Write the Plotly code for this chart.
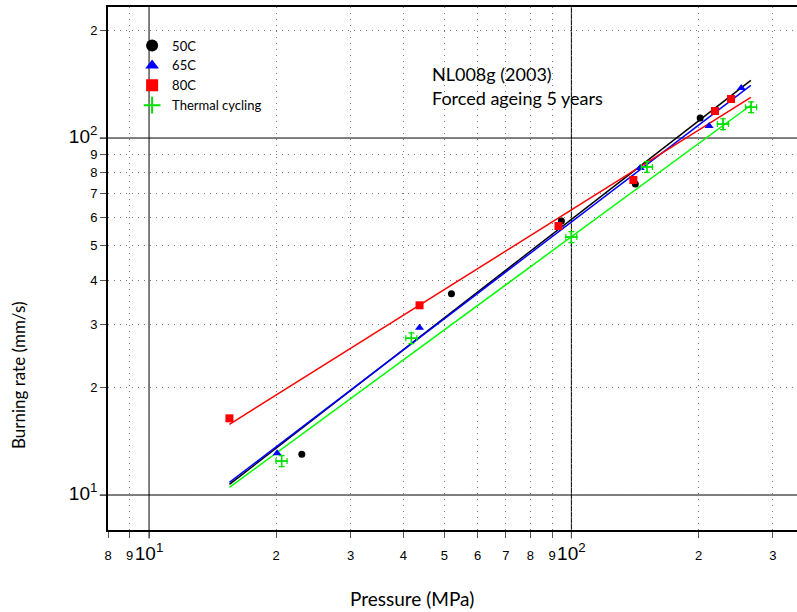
import numpy as np
import plotly.graph_objects as go

# Measured burning rates (pressure in MPa, rate in mm/s)
p_50 = [23.0, 52.0, 94.7, 141.7, 201.8]
r_50 = [13.0, 36.6, 58.6, 74.3, 113.8]

p_65 = [20.1, 43.7, 93.6, 145.5, 211.9, 252.5]
r_65 = [13.1, 29.4, 57.2, 82.4, 108.0, 138.0]

p_80 = [15.5, 43.7, 93.2, 140.2, 218.8, 238.8]
r_80 = [16.4, 34.0, 56.7, 76.3, 119.0, 128.6]

p_tc = [20.6, 41.8, 100.0, 151.0, 228.6, 266.4]
r_tc = [12.45, 27.5, 52.8, 83.0, 109.4, 122.0]

# Power-law fits r = a * p^n
fit_a = {"50C": 0.867, "65C": 0.918, "80C": 2.064, "Thermal cycling": 0.976}
fit_n = {"50C": 0.917, "65C": 0.901, "80C": 0.742, "Thermal cycling": 0.867}
fit_p_range = [15.5, 266.0]

# Axis ticks
x_ticks = [8, 9, 10, 20, 30, 40, 50, 60, 70, 80, 90, 100, 200, 300]
y_ticks = [10, 20, 30, 40, 50, 60, 70, 80, 90, 100, 200]
major_decades = [10, 100]

series_names = ["50C", "65C", "80C", "Thermal cycling"]
colors = {"50C": "#000000", "65C": "#0000ff", "80C": "#ff0000", "Thermal cycling": "#00e000"}
line_colors = {"50C": "#000000", "65C": "#0000ff", "80C": "#ff0000", "Thermal cycling": "#00ff00"}


def tick_label(v):
    exp = int(round(np.log10(v)))
    if abs(v - 10 ** exp) < 1e-9:
        return f"<span style='font-size:19px'>10<sup>{exp}</sup></span>"
    return str(int(round(v / 10 ** np.floor(np.log10(v)))))


fig = go.Figure()

# fit lines
p_fit = np.array(fit_p_range)
for name in series_names:
    fig.add_trace(go.Scatter(
        x=p_fit, y=fit_a[name] * p_fit ** fit_n[name],
        mode="lines", line=dict(color=line_colors[name], width=1.5),
        showlegend=False, hoverinfo="skip",
    ))

fig.add_trace(go.Scatter(
    x=p_50, y=r_50, mode="markers", name="50C",
    marker=dict(symbol="circle", size=7, color=colors["50C"]),
))
fig.add_trace(go.Scatter(
    x=p_65, y=r_65, mode="markers", name="65C",
    marker=dict(symbol="triangle-up", size=8, color=colors["65C"]),
))
fig.add_trace(go.Scatter(
    x=p_80, y=r_80, mode="markers", name="80C",
    marker=dict(symbol="square", size=8, color=colors["80C"]),
))
fig.add_trace(go.Scatter(
    x=p_tc, y=r_tc, mode="markers", name="Thermal cycling",
    marker=dict(symbol="cross-thin", size=9,
                line=dict(color=colors["Thermal cycling"], width=1.5)),
    error_x=dict(type="percent", value=3, thickness=1.2, width=3,
                 color=colors["Thermal cycling"]),
    error_y=dict(type="percent", value=3.5, thickness=1.2, width=3,
                 color=colors["Thermal cycling"]),
))

# solid lines at each decade
shapes = []
for d in major_decades:
    shapes.append(dict(type="line", xref="x", yref="paper", x0=d, x1=d,
                       y0=-0.016, y1=1, line=dict(color="#000000", width=1),
                       layer="below"))
    shapes.append(dict(type="line", xref="paper", yref="y", x0=-0.012, x1=1,
                       y0=d, y1=d, line=dict(color="#000000", width=1),
                       layer="below"))

axis_common = dict(
    type="log", tickangle=0,
    showgrid=True, gridcolor="#777777", griddash="1px,5px", gridwidth=1,
    ticks="outside", ticklen=6, tickcolor="#555555", tickwidth=1,
    tickfont=dict(family="Liberation Sans, Arial, sans-serif", size=13, color="#000000"),
    showline=True, linecolor="#000000", linewidth=2,
    zeroline=False,
)

fig.update_layout(
    width=797, height=612,
    margin=dict(l=108, r=0, t=7, b=82),
    paper_bgcolor="white", plot_bgcolor="white",
    xaxis=dict(range=[0.9028, 2.5342], mirror=True, ticklabelstandoff=6,
               tickvals=x_ticks, ticktext=[tick_label(v) for v in x_ticks],
               **axis_common),
    yaxis=dict(range=[0.902, 2.367], mirror=False,
               tickvals=y_ticks, ticktext=[tick_label(v) for v in y_ticks],
               **axis_common),
    shapes=shapes,
    showlegend=True,
    legend=dict(
        x=0.035, y=0.955, xanchor="left", yanchor="top",
        bgcolor="rgba(0,0,0,0)", itemsizing="constant",
        font=dict(family="Lato, Carlito, sans-serif", size=13, color="#000000"),
        tracegroupgap=0,
    ),
    annotations=[
        dict(text="NL008g (2003)", xref="paper", yref="paper",
             x=0.467, y=0.872, xanchor="left", yanchor="middle", showarrow=False,
             font=dict(family="Lato, sans-serif", size=18, color="#000000")),
        dict(text="Forced ageing 5 years", xref="paper", yref="paper",
             x=0.467, y=0.826, xanchor="left", yanchor="middle", showarrow=False,
             font=dict(family="Lato, sans-serif", size=18, color="#000000")),
        dict(text="Pressure (MPa)", xref="paper", yref="paper",
             x=(412 - 108) / 689, y=-(598 - 530) / 523, xanchor="center",
             yanchor="middle", showarrow=False,
             font=dict(family="Lato, sans-serif", size=19, color="#000000")),
        dict(text="Burning rate (mm/s)", xref="paper", yref="paper",
             x=-(108 - 18) / 689, y=(530 - 376) / 523, xanchor="center",
             yanchor="middle", showarrow=False, textangle=-90,
             font=dict(family="Lato, sans-serif", size=17, color="#000000")),
    ],
)

fig.write_html("out.html")
